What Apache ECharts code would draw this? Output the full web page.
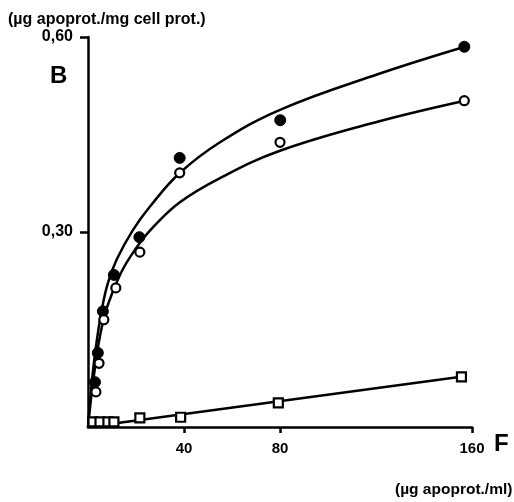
<!DOCTYPE html>
<html>
<head>
<meta charset="utf-8">
<script src="https://cdn.jsdelivr.net/npm/echarts@6/dist/echarts.min.js"></script>
<style>html,body{margin:0;padding:0;background:#fff}#c{width:514px;height:502px}</style>
</head>
<body>
<div id="c"></div>
<script>
// tick values
const xTicks = [40, 80, 160];
const yTicks = [0.3, 0.6];
// filled circles
const filledF = [2.9, 4.1, 6.2, 10.8, 21.4, 38.2, 80.1, 156.8];
const filledB = [0.069, 0.114, 0.178, 0.234, 0.292, 0.414, 0.472, 0.585];
// open circles
const openF = [3.3, 4.6, 6.6, 11.6, 21.6, 38.2, 80.0, 156.8];
const openB = [0.054, 0.098, 0.165, 0.214, 0.269, 0.391, 0.438, 0.502];
// open squares
const squareF = [2.1, 5.0, 8.3, 10.8, 21.6, 38.6, 79.3, 155.6];
const squareB = [0.008, 0.008, 0.008, 0.008, 0.014, 0.015, 0.037, 0.077];
// fitted curves
const filledFitF = [0, 1, 2.5, 5, 8, 12, 18.7, 26, 38, 55, 80, 121, 157];
const filledFitB = [0, 0.045, 0.1, 0.165, 0.218, 0.258, 0.303, 0.34, 0.39, 0.438, 0.488, 0.543, 0.585];
const openFitF = [0, 1, 2.5, 5, 8, 13.7, 20, 26, 38, 55, 80, 121, 157];
const openFitB = [0, 0.035, 0.08, 0.14, 0.185, 0.237, 0.275, 0.303, 0.345, 0.383, 0.425, 0.470, 0.502];
const squareFitF = [0, 157];
const squareFitB = [0, 0.078];

const zip = (a, b) => a.map((v, i) => [v, b[i]]);
const fontFam = '"Liberation Sans", Arial, sans-serif';

const chart = echarts.init(document.getElementById('c'), null, {renderer: 'canvas'});
chart.setOption({
  animation: false,
  backgroundColor: '#fff',
  grid: {left: 88, right: 42, top: 37, bottom: 75, containLabel: false},
  xAxis: {
    type: 'value', min: 0, max: 160, interval: 40,
    axisLine: {show: true, lineStyle: {color: '#000', width: 2.5}},
    axisTick: {show: true, customValues: xTicks, length: 6, lineStyle: {color: '#000', width: 2.5}},
    axisLabel: {show: true, customValues: xTicks, margin: 14, color: '#000',
      fontFamily: fontFam, fontWeight: 'bold', fontSize: 15},
    splitLine: {show: false}
  },
  yAxis: {
    type: 'value', min: 0, max: 0.6, interval: 0.3,
    axisLine: {show: true, lineStyle: {color: '#000', width: 2.5}},
    axisTick: {show: true, customValues: yTicks, length: 8, lineStyle: {color: '#000', width: 2.5}},
    axisLabel: {show: true, customValues: yTicks, margin: 15, color: '#000',
      fontFamily: fontFam, fontWeight: 'bold', fontSize: 16,
      formatter: v => v.toFixed(2).replace('.', ',')},
    splitLine: {show: false}
  },
  series: [
    {type: 'line', data: zip(filledFitF, filledFitB), showSymbol: false, smooth: 0.4,
      lineStyle: {color: '#000', width: 2.5}, z: 2, silent: true},
    {type: 'line', data: zip(openFitF, openFitB), showSymbol: false, smooth: 0.4,
      lineStyle: {color: '#000', width: 2.5}, z: 2, silent: true},
    {type: 'line', data: zip(squareFitF, squareFitB), showSymbol: false,
      lineStyle: {color: '#000', width: 2.5}, z: 2, silent: true},
    {type: 'scatter', data: zip(filledF, filledB), symbol: 'circle', symbolSize: 11,
      itemStyle: {color: '#000', borderColor: '#000', borderWidth: 1, opacity: 1}, z: 5},
    {type: 'scatter', data: zip(openF, openB), symbol: 'circle', symbolSize: 9,
      itemStyle: {color: '#fff', borderColor: '#000', borderWidth: 2.2, opacity: 1}, z: 6},
    {type: 'scatter', data: zip(squareF, squareB), symbol: 'rect', symbolSize: 9,
      itemStyle: {color: '#fff', borderColor: '#000', borderWidth: 2.2, opacity: 1}, z: 6}
  ],
  graphic: [
    {type: 'text', left: 8, top: 12, style: {text: '(µg apoprot./mg cell prot.)', fill: '#000',
      font: 'bold 16px ' + fontFam}},
    {type: 'text', left: 50, top: 64, style: {text: 'B', fill: '#000', font: 'bold 24px ' + fontFam}},
    {type: 'text', left: 494, top: 432, style: {text: 'F', fill: '#000', font: 'bold 24px ' + fontFam}},
    {type: 'text', left: 395, top: 482, style: {text: '(µg apoprot./ml)', fill: '#000',
      font: 'bold 15.5px ' + fontFam}}
  ]
});
</script>
</body>
</html>
